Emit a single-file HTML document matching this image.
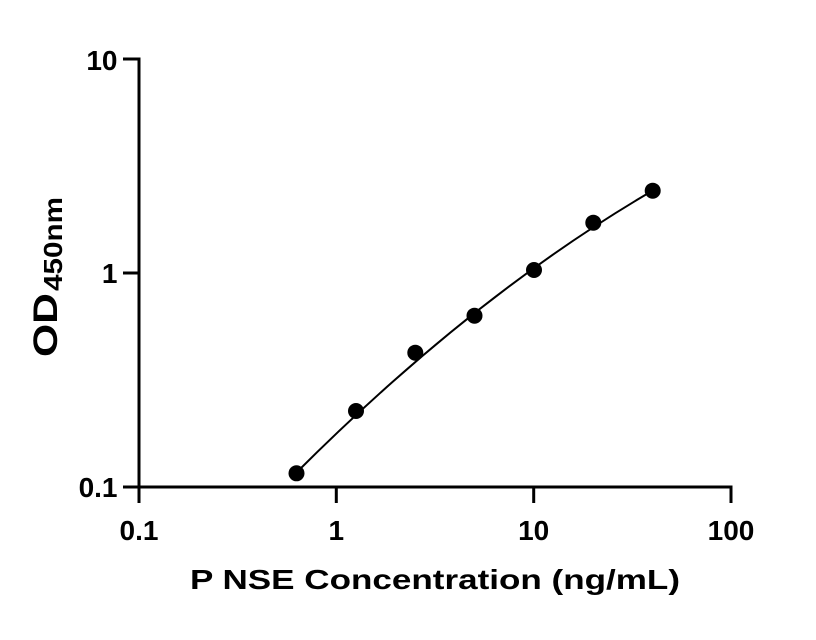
<!DOCTYPE html>
<html>
<head>
<meta charset="utf-8">
<style>
  html, body { margin: 0; padding: 0; background: #ffffff; }
  body { width: 816px; height: 640px; overflow: hidden; }
  svg { display: block; }
  text { font-family: "Liberation Sans", Arial, sans-serif; font-weight: bold; fill: #000; }
</style>
</head>
<body>
<svg width="816" height="640" viewBox="0 0 816 640" xmlns="http://www.w3.org/2000/svg">
  <rect width="816" height="640" fill="#ffffff"/>

  <!-- Axes -->
  <path d="M123,59 H139 V503" fill="none" stroke="#000" stroke-width="3" stroke-linejoin="miter"/>
  <path d="M123,487 H731 V503" fill="none" stroke="#000" stroke-width="3" stroke-linejoin="miter"/>
  <!-- y tick at 1 -->
  <line x1="123" y1="273" x2="139" y2="273" stroke="#000" stroke-width="3"/>
  <!-- x ticks at 1 and 10 -->
  <line x1="336.3" y1="487" x2="336.3" y2="503" stroke="#000" stroke-width="3"/>
  <line x1="533.7" y1="487" x2="533.7" y2="503" stroke="#000" stroke-width="3"/>

  <!-- Y tick labels -->
  <text x="117.5" y="70" font-size="28" text-anchor="end">10</text>
  <text x="117.5" y="283" font-size="28" text-anchor="end">1</text>
  <text x="117.5" y="497" font-size="28" text-anchor="end">0.1</text>

  <!-- X tick labels -->
  <text x="139" y="540" font-size="28" text-anchor="middle">0.1</text>
  <text x="336.3" y="540" font-size="28" text-anchor="middle">1</text>
  <text x="533.7" y="540" font-size="28" text-anchor="middle">10</text>
  <text x="731" y="540" font-size="28" text-anchor="middle">100</text>

  <!-- X axis title -->
  <text x="190" y="589" font-size="28" textLength="490" lengthAdjust="spacingAndGlyphs">P NSE Concentration (ng/mL)</text>

  <!-- Y axis title -->
  <g transform="translate(57,357) rotate(-90)">
    <text x="0" y="0" font-size="34" textLength="64" lengthAdjust="spacingAndGlyphs">OD</text>
    <text x="66" y="5" font-size="26" textLength="94" lengthAdjust="spacingAndGlyphs">450nm</text>
  </g>

  <!-- Fitted curve (smooth) -->
  <path d="M296,473 Q474,295 652,191" fill="none" stroke="#000" stroke-width="2"/>

  <!-- Data points -->
  <g fill="#000">
    <circle cx="296.5" cy="473.3" r="8"/>
    <circle cx="356" cy="411" r="8"/>
    <circle cx="415.3" cy="352.7" r="8"/>
    <circle cx="474.5" cy="315.7" r="8"/>
    <circle cx="534" cy="270" r="8"/>
    <circle cx="593.3" cy="222.7" r="8"/>
    <circle cx="652.7" cy="190.7" r="8"/>
  </g>
</svg>
</body>
</html>
